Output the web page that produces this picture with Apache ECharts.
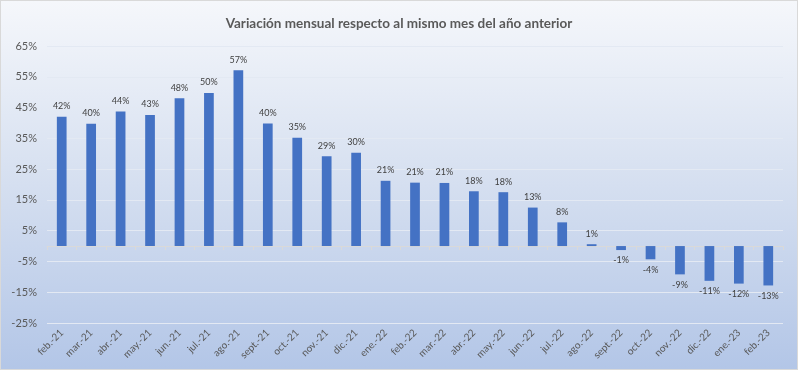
<!DOCTYPE html>
<html>
<head>
<meta charset="utf-8">
<script src="https://cdn.jsdelivr.net/npm/echarts@6/dist/echarts.min.js"></script>
<style>
html,body{margin:0;padding:0;background:#ffffff;}
#chart{width:798px;height:370px;box-sizing:border-box;border:1px solid #d9d9d9;}
</style>
</head>
<body>
<div id="chart"></div>
<script>
const categories = ['feb.-21','mar.-21','abr.-21','may.-21','jun.-21','jul.-21','ago.-21','sept.-21','oct.-21','nov.-21','dic.-21','ene.-22','feb.-22','mar.-22','abr.-22','may.-22','jun.-22','jul.-22','ago.-22','sept.-22','oct.-22','nov.-22','dic.-22','ene.-23','feb.-23'];
const variation = [42.0,39.7,43.7,42.6,48.0,49.7,57.1,39.8,35.2,29.2,30.3,21.2,20.6,20.5,17.8,17.5,12.5,7.7,0.6,-1.3,-4.3,-9.2,-11.3,-12.2,-12.8];
const yTicks = {min:-25, max:65, interval:10};
const titleText = 'Variación mensual respecto al mismo mes del año anterior';

const chart = echarts.init(document.getElementById('chart'), null, {renderer:'canvas'});
chart.setOption({
  backgroundColor: new echarts.graphic.LinearGradient(0,0,0,1,[
    {offset:0,color:'#f5f7fb'},
    {offset:0.5,color:'#d5dff0'},
    {offset:1,color:'#b3c6e7'}
  ]),
  animation:false,
  textStyle:{fontFamily:'Lato'},
  title:{
    text:titleText,
    left:'center',
    top:11,
    textStyle:{fontFamily:'Lato',fontSize:13.5,fontWeight:'bold',color:'#595959'}
  },
  grid:{left:46,right:14,top:45,bottom:46,containLabel:false},
  xAxis:{
    type:'category',
    data:categories,
    axisLine:{show:true,onZero:true,lineStyle:{color:'#d9d9d9',width:1}},
    axisTick:{show:true,alignWithLabel:false,length:4,lineStyle:{color:'#d9d9d9'}},
    axisLabel:{rotate:45,interval:0,fontSize:10,color:'#595959',margin:8,fontFamily:'Lato'},
    position:'bottom'
  },
  yAxis:{
    type:'value',
    min:yTicks.min,max:yTicks.max,interval:yTicks.interval,
    axisLine:{show:false},
    axisTick:{show:false},
    axisLabel:{formatter:v=>v+'%',fontSize:11,color:'#595959',margin:10,fontFamily:'Lato'},
    splitLine:{show:true,lineStyle:{color:'#e3e9f3',width:1.2}}
  },
  series:[{
    type:'bar',
    data:variation,
    barWidth:'33%',
    itemStyle:{color:'#4472c4'},
    label:{
      show:true,
      position:'outside',
      formatter:p=>Math.round(p.value)+'%',
      fontSize:9,
      color:'#404040',
      fontFamily:'Lato',
      distance:6
    }
  }]
});
</script>
</body>
</html>
